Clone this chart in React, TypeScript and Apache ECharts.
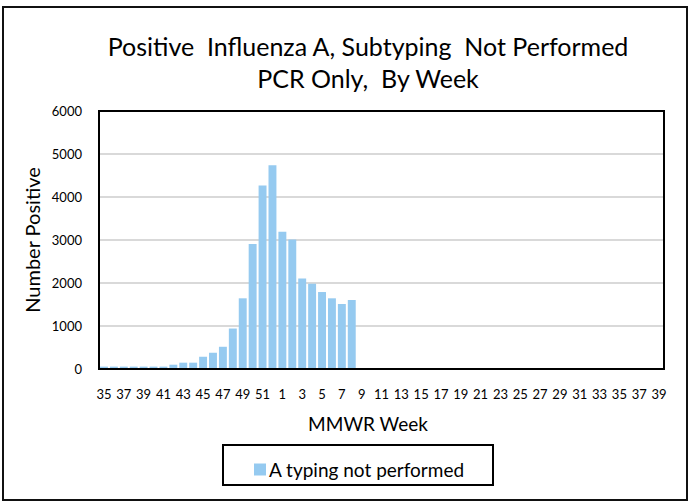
import React, { useEffect, useRef } from "react";
import * as echarts from "echarts";

const weeks: string[] = [
  "35","36","37","38","39","40","41","42","43","44","45","46","47","48","49","50","51","52",
  "1","2","3","4","5","6","7","8","9","10","11","12","13","14","15","16","17","18","19","20",
  "21","22","23","24","25","26","27","28","29","30","31","32","33","34","35","36","37","38","39",
];
const positives: (number | null)[] = [
  55, 55, 55, 55, 55, 55, 55, 100, 147, 147, 285, 378, 517, 941, 1644, 2909, 4267, 4738,
  3194, 3009, 2106, 1983, 1790, 1644, 1512, 1605,
];
const yTicks = { min: 0, max: 6000, step: 1000 };
const seriesName = "A typing not performed";
const titleLines = ["Positive  Influenza A, Subtyping  Not Performed", "PCR Only,  By Week"];

const FONT = "Lato, 'Open Sans', sans-serif";

export default function App() {
  const ref = useRef<HTMLDivElement>(null);
  useEffect(() => {
    document.body.style.margin = "0";
    if (!ref.current) return;
    const chart = echarts.init(ref.current, null, { renderer: "svg" });
    const data = weeks.map((_, i) => (i < positives.length ? positives[i] : null));
    chart.setOption({
      animation: false,
      backgroundColor: "#fff",
      textStyle: { fontFamily: FONT, color: "#000" },
      grid: {
        left: 99,
        top: 111,
        width: 565,
        height: 258,
        show: false,
      },
      xAxis: {
        type: "category",
        data: weeks,
        axisLine: { show: false },
        axisTick: { show: false },
        axisLabel: { interval: 1, fontSize: 13, color: "#000", margin: 18, fontFamily: FONT },
        splitLine: { show: false },
      },
      yAxis: {
        type: "value",
        min: yTicks.min,
        max: yTicks.max,
        interval: yTicks.step,
        axisLine: { show: false },
        axisTick: { show: false },
        axisLabel: {
          fontSize: 13,
          color: "#000",
          margin: 17,
          fontFamily: FONT,
          formatter: (v: number) => String(v),
        },
        splitLine: { show: true, lineStyle: { color: "#d9d9d9", width: 2 } },
      },
      legend: {
        left: 249,
        top: 455,
        itemWidth: 12,
        itemHeight: 12,
        itemGap: 4,
        icon: "rect",
        textStyle: { fontSize: 19, color: "#000", fontFamily: FONT, padding: [0, 0, 0, -2] },
        data: [seriesName],
      },
      series: [
        {
          name: seriesName,
          type: "bar",
          data,
          barCategoryGap: "20%",
          itemStyle: { color: "#95CAF0" },
        },
      ],
      graphic: [
        {
          type: "rect",
          shape: { x: 3, y: 7, width: 684, height: 493 },
          style: { fill: "none", stroke: "#111", lineWidth: 2 },
          silent: true,
        },
        {
          type: "rect",
          shape: { x: 99, y: 111, width: 565, height: 258 },
          style: { fill: "none", stroke: "#000", lineWidth: 2 },
          silent: true,
          z: 100,
        },
        {
          type: "rect",
          shape: { x: 223, y: 445, width: 270, height: 40 },
          style: { fill: "none", stroke: "#000", lineWidth: 2 },
          silent: true,
        },
        {
          type: "text",
          x: 368,
          y: 46,
          style: { text: titleLines[0], fontSize: 25, fontFamily: FONT, fill: "#000", textAlign: "center", textVerticalAlign: "middle" },
        },
        {
          type: "text",
          x: 368,
          y: 78,
          style: { text: titleLines[1], fontSize: 25, fontFamily: FONT, fill: "#000", textAlign: "center", textVerticalAlign: "middle" },
        },
        {
          type: "text",
          x: 32,
          y: 240,
          rotation: Math.PI / 2,
          style: { text: "Number Positive", fontSize: 20, fontFamily: FONT, fill: "#000", textAlign: "center", textVerticalAlign: "middle" },
        },
        {
          type: "text",
          x: 368,
          y: 423,
          style: { text: "MMWR Week", fontSize: 19, fontFamily: FONT, fill: "#000", textAlign: "center", textVerticalAlign: "middle" },
        },
      ],
    });
    return () => chart.dispose();
  }, []);
  return <div ref={ref} style={{ width: 694, height: 502 }} />;
}
